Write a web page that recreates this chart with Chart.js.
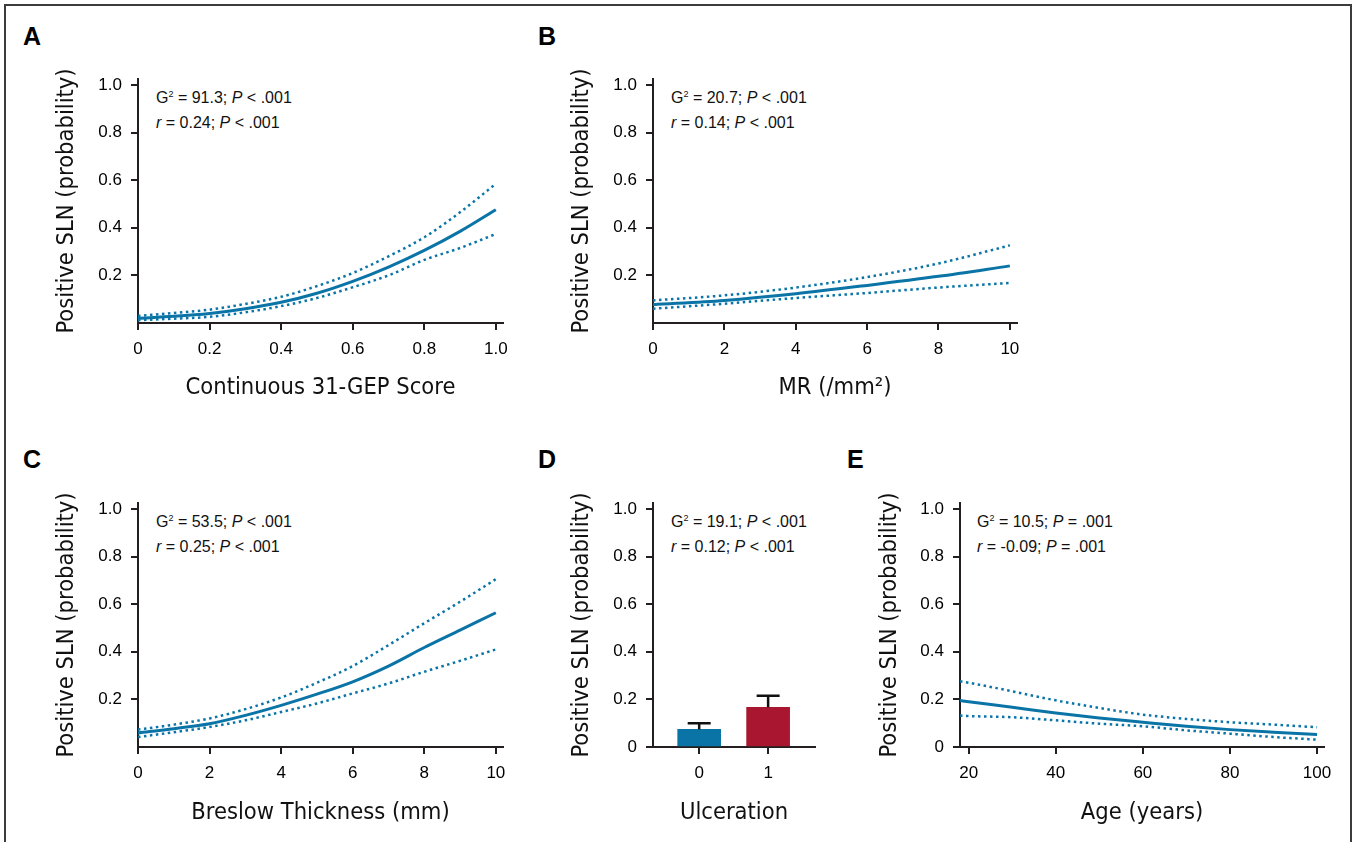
<!DOCTYPE html>
<html>
<head>
<meta charset="utf-8">
<script src="https://cdn.jsdelivr.net/npm/chart.js@4.4.1/dist/chart.umd.min.js"></script>
<style>
    html, body { margin: 0; padding: 0; background: #fff; width: 1358px; height: 842px; overflow: hidden; }
    #frame { position: absolute; left: 4px; top: 4px; width: 1348px; height: 900px; border: 2px solid #3c3c3c; box-sizing: border-box; }
    canvas { position: absolute; }
    .tag { position: absolute; font: bold 25px 'Liberation Sans', Arial, sans-serif; line-height: 25px; color: #000; }
    .note { position: absolute; font: 16px 'Liberation Sans', Arial, sans-serif; line-height: 25px; color: #111; white-space: nowrap; }
    .note sup { font-size: 9px; vertical-align: 6px; line-height: 0; }
</style>
</head>
<body>
<div id="frame"></div>

<div class="tag" style="left:23px;top:24px">A</div>
<div class="tag" style="left:538px;top:24px">B</div>
<div class="tag" style="left:23px;top:447px">C</div>
<div class="tag" style="left:538px;top:447px">D</div>
<div class="tag" style="left:847px;top:447px">E</div>

<div class="note" style="left:156px;top:85px">G<sup>2</sup> = 91.3; <i>P</i> &lt; .001<br><i>r</i> = 0.24; <i>P</i> &lt; .001</div>
<div class="note" style="left:671px;top:85px">G<sup>2</sup> = 20.7; <i>P</i> &lt; .001<br><i>r</i> = 0.14; <i>P</i> &lt; .001</div>
<div class="note" style="left:156px;top:509px">G<sup>2</sup> = 53.5; <i>P</i> &lt; .001<br><i>r</i> = 0.25; <i>P</i> &lt; .001</div>
<div class="note" style="left:671px;top:509px">G<sup>2</sup> = 19.1; <i>P</i> &lt; .001<br><i>r</i> = 0.12; <i>P</i> &lt; .001</div>
<div class="note" style="left:977px;top:509px">G<sup>2</sup> = 10.5; <i>P</i> = .001<br><i>r</i> = -0.09; <i>P</i> = .001</div>

<canvas id="chartA"></canvas>
<canvas id="chartB"></canvas>
<canvas id="chartC"></canvas>
<canvas id="chartD"></canvas>
<canvas id="chartE"></canvas>

<script>
    // A - continuous 31-GEP score
    const gepX     = [0, 0.1, 0.2, 0.3, 0.4, 0.5, 0.6, 0.7, 0.8, 0.9, 1.0];
    const gepFit   = [0.020, 0.028, 0.040, 0.060, 0.087, 0.125, 0.175, 0.235, 0.305, 0.385, 0.476];
    const gepUpper = [0.030, 0.042, 0.056, 0.080, 0.110, 0.155, 0.210, 0.280, 0.360, 0.465, 0.585];
    const gepLower = [0.012, 0.018, 0.026, 0.045, 0.071, 0.105, 0.150, 0.200, 0.265, 0.315, 0.374];
    const gepTicks = [0, 0.2, 0.4, 0.6, 0.8, 1.0];

    // B - mitotic rate
    const mrX     = [0, 2, 4, 6, 8, 10];
    const mrFit   = [0.077, 0.095, 0.123, 0.158, 0.196, 0.240];
    const mrUpper = [0.095, 0.116, 0.149, 0.193, 0.250, 0.326];
    const mrLower = [0.060, 0.081, 0.105, 0.126, 0.149, 0.168];
    const mrTicks = [0, 2, 4, 6, 8, 10];

    // C - Breslow thickness
    const breslowX     = [0, 1, 2, 3, 4, 5, 6, 7, 8, 9, 10];
    const breslowFit   = [0.059, 0.077, 0.098, 0.133, 0.175, 0.222, 0.274, 0.340, 0.418, 0.491, 0.564];
    const breslowUpper = [0.073, 0.094, 0.120, 0.159, 0.208, 0.270, 0.340, 0.428, 0.520, 0.610, 0.705];
    const breslowLower = [0.042, 0.062, 0.084, 0.112, 0.147, 0.183, 0.225, 0.267, 0.316, 0.362, 0.410];
    const breslowTicks = [0, 2, 4, 6, 8, 10];

    // D - ulceration
    const ulcerCats  = [0, 1];
    const ulcerMean  = [0.074, 0.167];
    const ulcerUpper = [0.0995, 0.215];

    // E - age
    const ageX     = [18, 20, 30, 40, 50, 60, 70, 80, 90, 100];
    const ageFit   = [0.195, 0.190, 0.167, 0.143, 0.122, 0.104, 0.087, 0.073, 0.062, 0.052];
    const ageUpper = [0.276, 0.270, 0.234, 0.196, 0.164, 0.136, 0.118, 0.104, 0.094, 0.083];
    const ageLower = [0.132, 0.130, 0.125, 0.112, 0.098, 0.087, 0.070, 0.056, 0.042, 0.031];
    const ageTicks = [20, 40, 60, 80, 100];

    const probTicks = [0, 0.2, 0.4, 0.6, 0.8, 1.0];

    const ink = '#231f20';
    const blue = '#0a74a7';
    const red = '#a8172f';

    // pick a condensed face if the machine has one
    function hasFont(name) {
        const c = document.createElement('canvas').getContext('2d');
        const s = 'Continuous 31-GEP Score';
        c.font = '40px monospace';
        const a = c.measureText(s).width;
        c.font = `40px '${name}', monospace`;
        return Math.abs(c.measureText(s).width - a) > 0.5;
    }
    const titleFamily = ['Liberation Sans Narrow', 'DejaVu Sans Condensed', 'Liberation Sans']
        .find(hasFont) || 'sans-serif';
    let titleSize = 25;
    {
        const c = document.createElement('canvas').getContext('2d');
        c.font = `40px '${titleFamily}'`;
        const w = c.measureText('Continuous 31-GEP Score').width;
        titleSize = Math.max(21, Math.min(28, 40 * 270 / w));
    }
    const tickFont = { family: "'Liberation Sans', Arial, sans-serif", size: 17, lineHeight: 1.2 };
    const titleFont = { family: `'${titleFamily}', sans-serif`, size: titleSize, lineHeight: 1.2 };

    function curve(xs, ys, dotted) {
        return {
            type: 'line',
            data: xs.map((x, i) => ({ x: x, y: ys[i] })),
            borderColor: blue,
            borderWidth: dotted ? 2.5 : 3,
            borderDash: dotted ? [2.5, 3.5] : [],
            borderCapStyle: 'butt',
            pointRadius: 0,
            cubicInterpolationMode: 'monotone',
            fill: false
        };
    }

    const errorBars = {
        id: 'errorBars',
        afterDatasetsDraw(chart, args, opts) {
            if (!opts.upper) return;
            const { ctx, scales: { x, y } } = chart;
            ctx.save();
            ctx.strokeStyle = '#111';
            ctx.lineWidth = 2.5;
            opts.cats.forEach((c, i) => {
                const px = x.getPixelForValue(c);
                const top = y.getPixelForValue(opts.upper[i]);
                const base = y.getPixelForValue(opts.mean[i]);
                ctx.beginPath();
                ctx.moveTo(px, base);
                ctx.lineTo(px, top);
                ctx.moveTo(px - 11.5, top);
                ctx.lineTo(px + 11.5, top);
                ctx.stroke();
            });
            ctx.restore();
        }
    };

    function makePanel(id, p) {
        const a = p.area;
        const box = { left: a.l - 115, top: a.t - 30, right: a.r + 22, bottom: a.b + 100 };
        const el = document.getElementById(id);
        el.width = box.right - box.left;
        el.height = box.bottom - box.top;
        el.style.left = box.left + 'px';
        el.style.top = box.top + 'px';
        const lh = titleFont.size * 1.2;
        const gridOpts = { display: true, drawOnChartArea: false, drawTicks: true, tickLength: 7, color: ink, lineWidth: 2, offset: false };
        const yTicks = p.yZero ? probTicks : probTicks.slice(1);

        return new Chart(el, {
            type: p.type || 'line',
            data: { datasets: p.datasets },
            plugins: [errorBars],
            options: {
                responsive: false,
                animation: false,
                devicePixelRatio: 1,
                layout: { padding: { left: 0, top: a.t - box.top, right: box.right - a.r, bottom: 0 } },
                plugins: {
                    legend: { display: false },
                    tooltip: { enabled: false },
                    errorBars: p.errorBars || {}
                },
                scales: {
                    x: {
                        type: 'linear',
                        offset: false,
                        min: p.xMin,
                        max: p.xMax,
                        afterBuildTicks: s => { s.ticks = p.xTicks.map(v => ({ value: v })); },
                        afterFit: s => { s.height = box.bottom - a.b; },
                        grid: gridOpts,
                        border: { display: true, color: ink, width: 2 },
                        ticks: {
                            color: '#000', font: tickFont, padding: 9, maxRotation: 0, autoSkip: false,
                            callback: v => v === 0 ? '0' : v.toFixed(p.dec)
                        },
                        title: {
                            display: true, text: p.xTitle, color: '#111', font: titleFont,
                            padding: { top: 0, bottom: box.bottom - p.xTitleY - lh / 2 }
                        }
                    },
                    y: {
                        type: 'linear',
                        min: 0,
                        max: 1.025,
                        afterBuildTicks: s => { s.ticks = yTicks.map(v => ({ value: v })); },
                        afterFit: s => { s.width = a.l - box.left; },
                        grid: gridOpts,
                        border: { display: true, color: ink, width: 2 },
                        ticks: {
                            color: '#000', font: tickFont, padding: 9,
                            callback: v => v === 0 ? '0' : v.toFixed(1)
                        },
                        title: {
                            display: true, text: 'Positive SLN (probability)', color: '#111', font: titleFont,
                            padding: { top: p.yTitleX - box.left - lh / 2, bottom: 0 }
                        }
                    }
                }
            }
        });
    }

    makePanel('chartA', {
        area: { l: 138, t: 79, r: 503, b: 323 },
        xMin: 0, xMax: 1.02, xTicks: gepTicks, dec: 1,
        xTitle: 'Continuous 31-GEP Score', xTitleY: 388, yTitleX: 67,
        datasets: [curve(gepX, gepUpper, true), curve(gepX, gepLower, true), curve(gepX, gepFit, false)]
    });

    makePanel('chartB', {
        area: { l: 653, t: 79, r: 1017, b: 323 },
        xMin: 0, xMax: 10.2, xTicks: mrTicks, dec: 0,
        xTitle: 'MR (/mm²)', xTitleY: 388, yTitleX: 582,
        datasets: [curve(mrX, mrUpper, true), curve(mrX, mrLower, true), curve(mrX, mrFit, false)]
    });

    makePanel('chartC', {
        area: { l: 138, t: 503, r: 503, b: 747 },
        xMin: 0, xMax: 10.2, xTicks: breslowTicks, dec: 0,
        xTitle: 'Breslow Thickness (mm)', xTitleY: 813, yTitleX: 67,
        datasets: [curve(breslowX, breslowUpper, true), curve(breslowX, breslowLower, true), curve(breslowX, breslowFit, false)]
    });

    makePanel('chartD', {
        type: 'bar',
        area: { l: 653, t: 503, r: 815, b: 747 },
        xMin: -0.67, xMax: 1.68, xTicks: ulcerCats, dec: 0, yZero: true,
        xTitle: 'Ulceration', xTitleY: 813, yTitleX: 582,
        errorBars: { cats: ulcerCats, mean: ulcerMean, upper: ulcerUpper },
        datasets: [{
            data: ulcerCats.map((c, i) => ({ x: c, y: ulcerMean[i] })),
            backgroundColor: [blue, red],
            borderWidth: 0,
            barThickness: 43
        }]
    });

    makePanel('chartE', {
        area: { l: 960, t: 503, r: 1324, b: 747 },
        xMin: 18, xMax: 101.6, xTicks: ageTicks, dec: 0, yZero: true,
        xTitle: 'Age (years)', xTitleY: 813, yTitleX: 890,
        datasets: [curve(ageX, ageUpper, true), curve(ageX, ageLower, true), curve(ageX, ageFit, false)]
    });
</script>
</body>
</html>
